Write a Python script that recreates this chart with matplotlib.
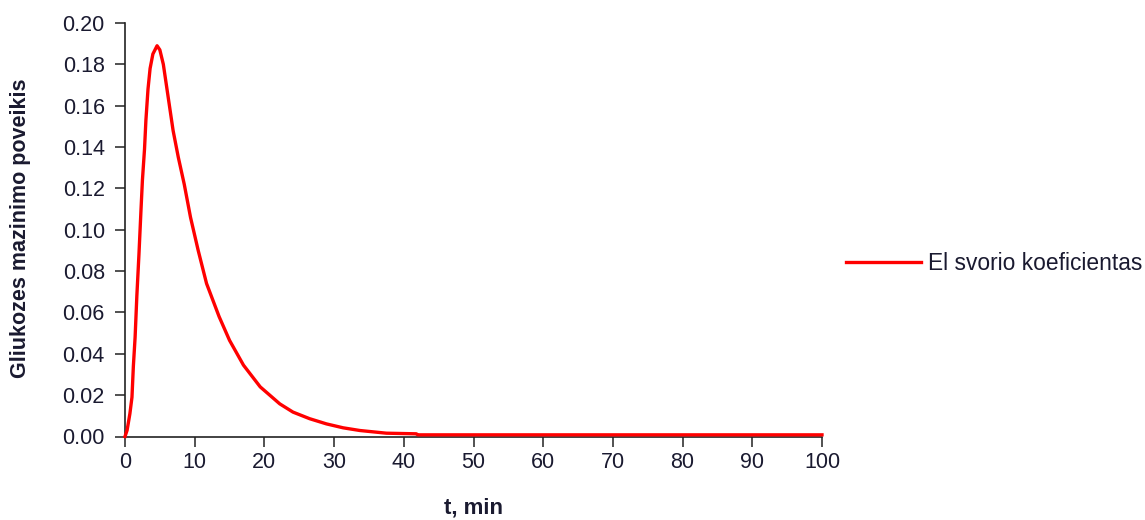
import matplotlib
matplotlib.use("Agg")
import matplotlib.pyplot as plt
from matplotlib.lines import Line2D

# Time after administration, min
t_min = [0, 0.3, 0.7, 1.0, 1.2, 1.45, 1.7, 2.0, 2.3, 2.5, 2.8, 3.0, 3.3, 3.6,
         4.0, 4.6, 5.0, 5.5, 6.2, 6.9, 7.65, 8.5, 9.4, 10.5, 11.7, 13.5, 15,
         17, 19.4, 22.2, 24.1, 26.5, 28.9, 31.3, 33.7, 37.5, 41.8, 42, 50,
         60, 70, 80, 90, 100]
# Glucose-lowering effect (El weight coefficient)
effect = [0, 0.003, 0.011, 0.019, 0.034, 0.048, 0.068, 0.088, 0.110, 0.124,
          0.139, 0.153, 0.168, 0.178, 0.185, 0.189, 0.187, 0.180, 0.164,
          0.148, 0.135, 0.122, 0.106, 0.090, 0.074, 0.058, 0.0465, 0.0345,
          0.024, 0.0158, 0.0118, 0.0086, 0.0061, 0.0042, 0.0029, 0.0016,
          0.0013, 0.0008, 0.0008, 0.0008, 0.0008, 0.0008, 0.0008, 0.0008]

series_label = "El svorio koeficientas"
x_ticks = list(range(0, 101, 10))
y_ticks = [0.00, 0.02, 0.04, 0.06, 0.08, 0.10, 0.12, 0.14, 0.16, 0.18, 0.20]

plt.rcParams['font.family'] = ['Liberation Sans', 'DejaVu Sans']
text_color = '#1a1a30'
axis_color = '#222222'
fs = 15.5

fig = plt.figure(figsize=(11.45, 5.2), dpi=100)
ax = fig.add_axes([125 / 1145, 1 - 436.5 / 520, 697 / 1145, 413.5 / 520])

ax.plot(t_min, effect, color='#ff0000', lw=2.4, solid_joinstyle='round',
        clip_on=False, zorder=3)

ax.set_xlim(0, 100)
ax.set_ylim(0, 0.20)
ax.set_xticks(x_ticks)
ax.set_yticks(y_ticks)
ax.set_xticklabels([str(v) for v in x_ticks])
ax.set_yticklabels([f"{v:.2f}" for v in y_ticks])

for side in ('top', 'right'):
    ax.spines[side].set_visible(False)
for side in ('left', 'bottom'):
    ax.spines[side].set_color(axis_color)
    ax.spines[side].set_linewidth(1.2)

ax.tick_params(axis='both', direction='out', length=7.5, width=1.1,
               color=axis_color, labelsize=fs, labelcolor=text_color)
ax.tick_params(axis='y', pad=7)
ax.tick_params(axis='x', pad=4)

ax.set_xlabel("t, min", fontsize=fs + 0.5, fontweight='bold', color=text_color,
              ha='center', va='center')
ax.xaxis.set_label_coords((473 - 125) / 697, (436.5 - 508) / 413.5)
ax.set_ylabel("Gliukozes mazinimo poveikis", fontsize=fs, fontweight='bold',
              color=text_color, ha='center', va='center')
ax.yaxis.set_label_coords((21 - 125) / 697, (436.5 - 228) / 413.5)

handle = Line2D([], [], color='#ff0000', lw=2.4)
fig.legend([handle], [series_label], loc='center left',
           bbox_to_anchor=(825 / 1145, 1 - 263 / 520), frameon=False,
           fontsize=16.4, labelcolor=text_color, handlelength=3.3,
           handletextpad=0.3)

fig.savefig("out.png", dpi=100, facecolor='white')
